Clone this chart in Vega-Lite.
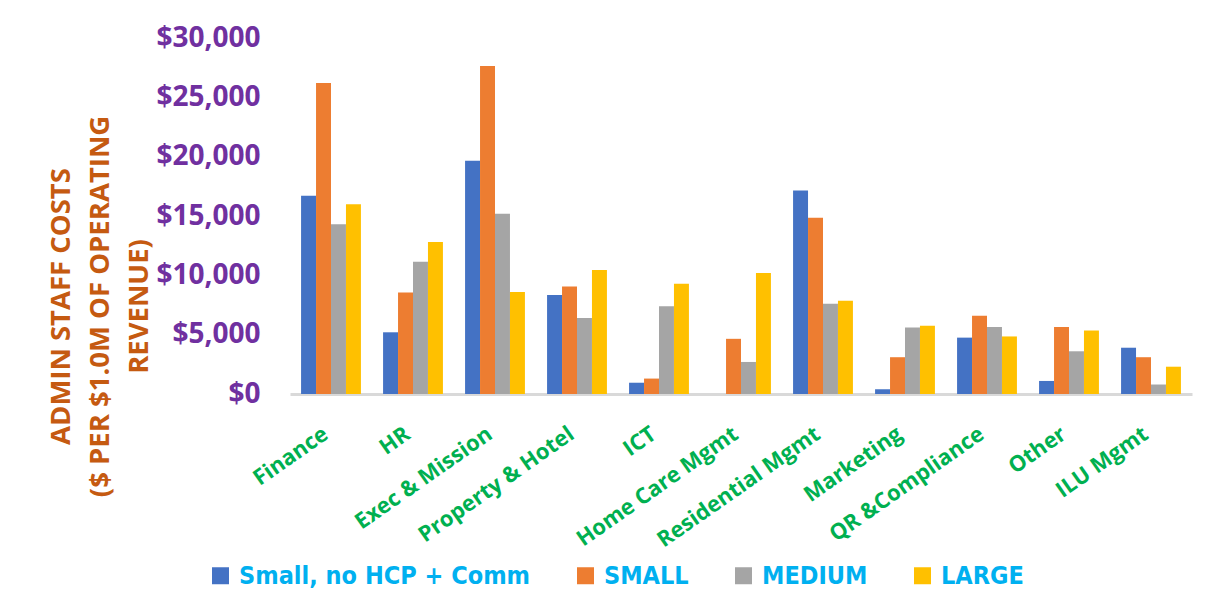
{
  "$schema": "https://vega.github.io/schema/vega-lite/v6.json",
  "width": 902,
  "height": 356,
  "autosize": "none",
  "padding": {"left": 290, "top": 38, "right": 16, "bottom": 216},
  "background": "white",
  "data": {
    "values": [
      {"area": "Finance", "group": "Small, no HCP + Comm", "cost": 16700},
      {"area": "Finance", "group": "SMALL", "cost": 26200},
      {"area": "Finance", "group": "MEDIUM", "cost": 14300},
      {"area": "Finance", "group": "LARGE", "cost": 16000},
      {"area": "HR", "group": "Small, no HCP + Comm", "cost": 5200},
      {"area": "HR", "group": "SMALL", "cost": 8550},
      {"area": "HR", "group": "MEDIUM", "cost": 11150},
      {"area": "HR", "group": "LARGE", "cost": 12800},
      {"area": "Exec & Mission", "group": "Small, no HCP + Comm", "cost": 19650},
      {"area": "Exec & Mission", "group": "SMALL", "cost": 27650},
      {"area": "Exec & Mission", "group": "MEDIUM", "cost": 15200},
      {"area": "Exec & Mission", "group": "LARGE", "cost": 8600},
      {"area": "Property & Hotel", "group": "Small, no HCP + Comm", "cost": 8350},
      {"area": "Property & Hotel", "group": "SMALL", "cost": 9050},
      {"area": "Property & Hotel", "group": "MEDIUM", "cost": 6400},
      {"area": "Property & Hotel", "group": "LARGE", "cost": 10450},
      {"area": "ICT", "group": "Small, no HCP + Comm", "cost": 950},
      {"area": "ICT", "group": "SMALL", "cost": 1300},
      {"area": "ICT", "group": "MEDIUM", "cost": 7400},
      {"area": "ICT", "group": "LARGE", "cost": 9300},
      {"area": "Home Care Mgmt", "group": "Small, no HCP + Comm", "cost": 0},
      {"area": "Home Care Mgmt", "group": "SMALL", "cost": 4650},
      {"area": "Home Care Mgmt", "group": "MEDIUM", "cost": 2700},
      {"area": "Home Care Mgmt", "group": "LARGE", "cost": 10200},
      {"area": "Residential Mgmt", "group": "Small, no HCP + Comm", "cost": 17150},
      {"area": "Residential Mgmt", "group": "SMALL", "cost": 14850},
      {"area": "Residential Mgmt", "group": "MEDIUM", "cost": 7600},
      {"area": "Residential Mgmt", "group": "LARGE", "cost": 7850},
      {"area": "Marketing", "group": "Small, no HCP + Comm", "cost": 400},
      {"area": "Marketing", "group": "SMALL", "cost": 3100},
      {"area": "Marketing", "group": "MEDIUM", "cost": 5600},
      {"area": "Marketing", "group": "LARGE", "cost": 5750},
      {"area": "QR &Compliance", "group": "Small, no HCP + Comm", "cost": 4750},
      {"area": "QR &Compliance", "group": "SMALL", "cost": 6600},
      {"area": "QR &Compliance", "group": "MEDIUM", "cost": 5650},
      {"area": "QR &Compliance", "group": "LARGE", "cost": 4850},
      {"area": "Other", "group": "Small, no HCP + Comm", "cost": 1100},
      {"area": "Other", "group": "SMALL", "cost": 5650},
      {"area": "Other", "group": "MEDIUM", "cost": 3600},
      {"area": "Other", "group": "LARGE", "cost": 5350},
      {"area": "ILU Mgmt", "group": "Small, no HCP + Comm", "cost": 3900},
      {"area": "ILU Mgmt", "group": "SMALL", "cost": 3100},
      {"area": "ILU Mgmt", "group": "MEDIUM", "cost": 800},
      {"area": "ILU Mgmt", "group": "LARGE", "cost": 2300}
    ]
  },
  "mark": {"type": "bar"},
  "encoding": {
    "x": {
      "field": "area",
      "type": "nominal",
      "sort": null,
      "scale": {"paddingInner": 0.27, "paddingOuter": 0.135},
      "axis": {
        "title": null,
        "domain": true,
        "domainColor": "#D9D9D9",
        "domainWidth": 3,
        "ticks": false,
        "grid": false,
        "labelAngle": -35,
        "labelAlign": "right",
        "labelBaseline": "top",
        "labelPadding": 29,
        "labelOffset": -11,
        "labelLimit": 400,
        "labelFont": "Open Sans",
        "labelFontSize": 22,
        "labelFontWeight": "bold",
        "labelColor": "#00B050"
      }
    },
    "xOffset": {
      "field": "group",
      "type": "nominal",
      "scale": {"domain": ["Small, no HCP + Comm", "SMALL", "MEDIUM", "LARGE"], "paddingInner": 0, "paddingOuter": 0}
    },
    "y": {
      "field": "cost",
      "type": "quantitative",
      "scale": {"domain": [0, 30000]},
      "axis": {
        "values": [0, 5000, 10000, 15000, 20000, 25000, 30000],
        "format": "$,.0f",
        "domain": false,
        "ticks": false,
        "grid": false,
        "labelPadding": 30,
        "labelFont": "Open Sans",
        "labelFontSize": 28,
        "labelFontWeight": "bold",
        "labelColor": "#7030A0",
        "title": ["ADMIN STAFF COSTS", "($ PER $1.0M OF OPERATING", "REVENUE)"],
        "titleFont": "Open Sans",
        "titleFontSize": 27.5,
        "titleFontWeight": "bold",
        "titleColor": "#C55A11",
        "titleLineHeight": 39,
        "titleAngle": 270,
        "titleAlign": "center",
        "titleBaseline": "top",
        "titleX": -243,
        "titleY": 268
      }
    },
    "color": {
      "field": "group",
      "type": "nominal",
      "scale": {
        "domain": ["Small, no HCP + Comm", "SMALL", "MEDIUM", "LARGE"],
        "range": ["#4472C4", "#ED7D31", "#A5A5A5", "#FFC000"]
      },
      "legend": {
        "title": null,
        "orient": "none",
        "direction": "horizontal",
        "legendX": -82,
        "legendY": 525,
        "symbolType": "square",
        "symbolSize": 289,
        "symbolStrokeWidth": 0,
        "labelFont": "DejaVu Sans Condensed, Open Sans, sans-serif",
        "labelFontSize": 25,
        "labelFontWeight": "bold",
        "labelColor": "#00B0F0",
        "labelOffset": 6,
        "labelLimit": 500,
        "columnPadding": 42
      }
    }
  },
  "config": {"view": {"stroke": null}}
}
